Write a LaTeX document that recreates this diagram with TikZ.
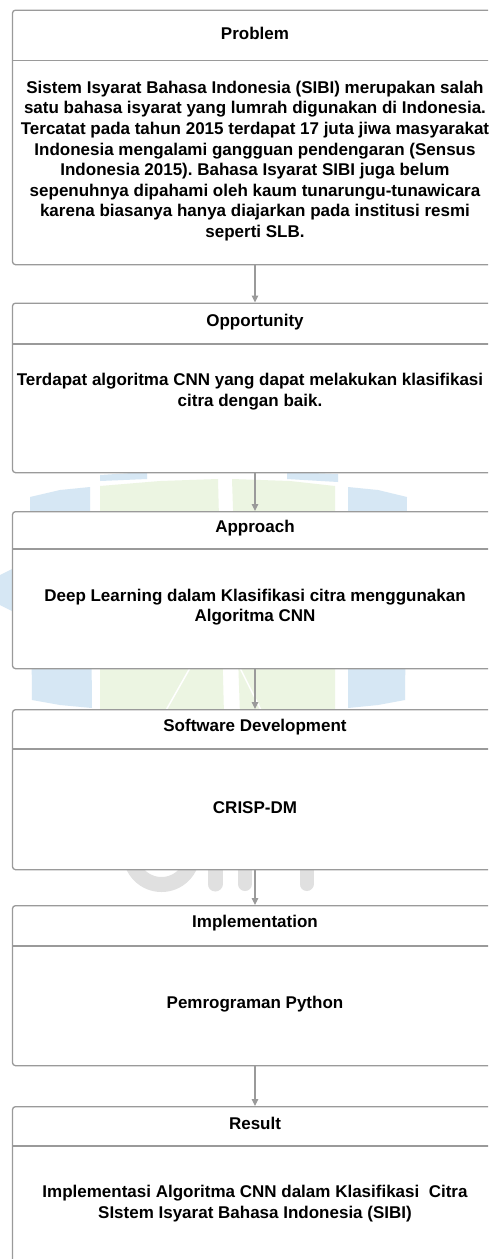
\documentclass[tikz,border=0pt]{standalone}
\usepackage{fontspec}
\setmainfont{Liberation Sans}
\usetikzlibrary{arrows.meta}
\frenchspacing

\definecolor{edge}{HTML}{9A9A9A}
\definecolor{wmblue}{RGB}{214,231,244}
\definecolor{wmgreen}{RGB}{236,245,226}
\definecolor{wmgrey}{RGB}{224,224,224}

\begin{document}
\begin{tikzpicture}[x=1pt,y=-1pt,
  panel/.style={draw=edge, line width=1.3pt, fill=white, rounded corners=3pt,
    minimum width=485pt, inner sep=0pt, anchor=north},
  divider/.style={draw=edge, line width=1.3pt},
  head/.style={font=\bfseries\fontsize{17}{20.6}\selectfont, inner sep=0pt},
  body/.style={font=\bfseries\fontsize{17}{20.6}\selectfont, align=center, inner sep=0pt},
  flow/.style={draw=edge, line width=1.2pt, -{Triangle[width=6.5pt,length=7pt]}}]
\useasboundingbox (0,0) rectangle (488,1259);
\clip (0,0) rectangle (488,1259);
\fill[white] (0,0) rectangle (488,1259);

% faint emblem in the background
\fill[wmblue] (30,497) -- (60,490) -- (90,487) -- (92,708) -- (60,705) -- (32,700) -- cycle;
\fill[wmblue] (40,555) -- (0,575) -- (0,605) -- (40,625) -- cycle;
\fill[wmblue] (348,487) -- (378,490) -- (407,497) -- (405,700) -- (378,705) -- (348,708) -- cycle;
\fill[wmblue] (100,475) -- (147,472) -- (147,479) -- (100,481) -- cycle;
\fill[wmblue] (287,472) -- (338,474) -- (338,482) -- (287,479) -- cycle;
\fill[wmgreen] (100,486) -- (160,481) -- (218,479) -- (224,715) -- (100,715) -- cycle;
\fill[wmgreen] (232,479) -- (290,481) -- (335,486) -- (335,715) -- (240,715) -- cycle;
\draw[white, line width=1.5pt] (165,712) -- (190,668);
\draw[white, line width=1.5pt] (262,712) -- (240,668);
\draw[wmgrey, line width=15pt] (130.5,853.5) arc (180:0:31);
\draw[wmgrey, line width=15pt, line cap=round] (215,840) -- (215,884);
\draw[wmgrey, line width=14pt, line cap=round] (245,840) -- (245,884);
\draw[wmgrey, line width=14pt, line cap=round] (306.5,840) -- (306.5,884);

% panels
\node[panel, minimum height=254.5pt] (p1) at (255,9.5) {};
\node[panel, minimum height=169.5pt] (p2) at (255,302.5) {};
\node[panel, minimum height=157pt]   (p3) at (255,511) {};
\node[panel, minimum height=160pt]   (p4) at (255,709) {};
\node[panel, minimum height=160pt]   (p5) at (255,905) {};
\node[panel, minimum height=200pt]   (p6) at (255,1106) {};

% header dividers
\draw[divider] (12.5,60.5) -- (497.5,60.5);
\draw[divider] (12.5,344) -- (497.5,344);
\draw[divider] (12.5,549) -- (497.5,549);
\draw[divider] (12.5,749) -- (497.5,749);
\draw[divider] (12.5,946) -- (497.5,946);
\draw[divider] (12.5,1146) -- (497.5,1146);

% headers
\node[head] (h1) at (255,33) {Problem};
\node[head] (h2) at (255,322) {Opportunity};
\node[head] (h3) at (255,528.5) {Approach};
\node[head] (h4) at (255,727) {Software Development};
\node[head] (h5) at (255,923) {Implementation};
\node[head] (h6) at (255,1123) {Result};

% contents
\node[body] (t1) at (255,161) {Sistem Isyarat Bahasa Indonesia (SIBI) merupakan salah\\
satu bahasa isyarat yang lumrah digunakan di Indonesia.\\
Tercatat pada tahun 2015 terdapat 17 juta jiwa masyarakat\\
Indonesia mengalami gangguan pendengaran (Sensus\\
Indonesia 2015). Bahasa Isyarat SIBI juga belum\\
sepenuhnya dipahami oleh kaum tunarungu-tunawicara\\
karena biasanya hanya diajarkan pada institusi resmi\\
seperti SLB.};
\node[body] (t2) at (250,391.5) {Terdapat algoritma CNN yang dapat melakukan klasifikasi\\
citra dengan baik.};
\node[body] (t3) at (255,607) {Deep Learning dalam Klasifikasi citra menggunakan\\
Algoritma CNN};
\node[body] (t4) at (255,808) {CRISP-DM};
\node[body] (t5) at (255,1004) {Pemrograman Python};
\node[body] (t6) at (255,1203.5) {Implementasi Algoritma CNN dalam Klasifikasi\ \ Citra\\
SIstem Isyarat Bahasa Indonesia (SIBI)};

% flow
\draw[flow] (p1.south) -- (p2.north);
\draw[flow] (p2.south) -- (p3.north);
\draw[flow] (p3.south) -- (p4.north);
\draw[flow] (p4.south) -- (p5.north);
\draw[flow] (p5.south) -- (p6.north);
\end{tikzpicture}
\end{document}
